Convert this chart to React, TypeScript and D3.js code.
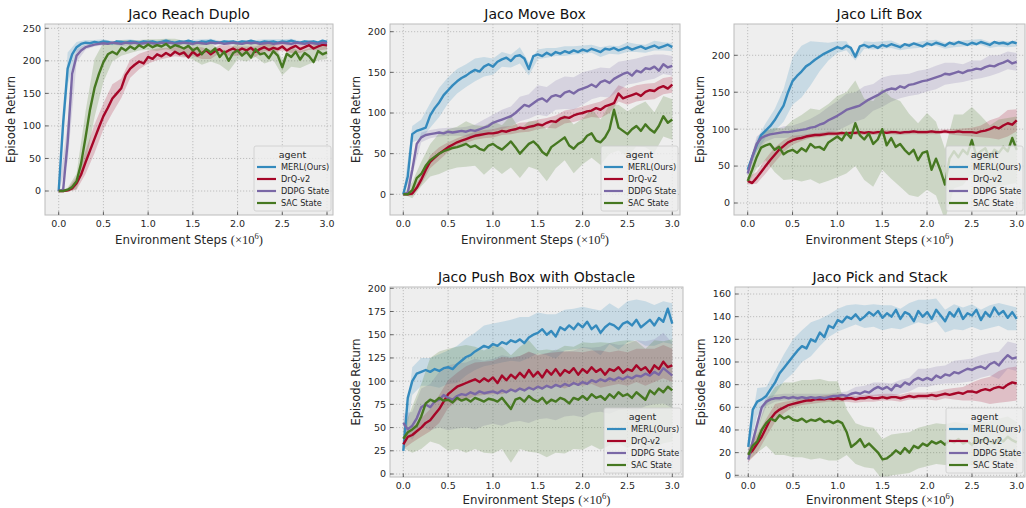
import React from 'react';
import * as d3 from 'd3';

// ---- sample grid (millions of environment steps) ----
const STEPS = d3.range(61).map((i) => i / 20);
const BAND_STEPS = d3.range(31).map((i) => i / 10);

const AGENTS = ['MERL(Ours)', 'DrQ-v2', 'DDPG State', 'SAC State'];
const COLORS = ['#348ABD', '#A60628', '#7A68A6', '#467821'];
const TITLES = ['Jaco Reach Duplo', 'Jaco Move Box', 'Jaco Lift Box', 'Jaco Push Box with Obstacle', 'Jaco Pick and Stack'];
const X_TICKS = [0, 0.5, 1, 1.5, 2, 2.5, 3];
const X_TICK_LABELS = ['0.0', '0.5', '1.0', '1.5', '2.0', '2.5', '3.0'];
const Y_TICKS_REACH = [0, 50, 100, 150, 200, 250];
const Y_TICKS_MOVE = [0, 50, 100, 150, 200];
const Y_TICKS_LIFT = [0, 50, 100, 150, 200];
const Y_TICKS_PUSH = [0, 25, 50, 75, 100, 125, 150, 175, 200];
const Y_TICKS_PICK = [0, 20, 40, 60, 80, 100, 120, 140, 160];

// ---- Jaco Reach Duplo ----
const reachMERL = [0, 105, 188, 210, 221, 226, 228, 227, 229, 228,
  230, 229, 227, 230, 229, 228, 230, 229, 228, 230,
  229, 230, 228, 229, 231, 229, 228, 230, 229, 231,
  229, 228, 230, 229, 231, 229, 228, 230, 229, 230,
  228, 230, 229, 231, 229, 228, 230, 229, 230, 228,
  230, 229, 231, 229, 228, 230, 229, 230, 228, 231,
  229];
const reachDrQ = [0, 0, 1, 4, 12, 25, 44, 62, 80, 98,
  115, 128, 142, 150, 158, 178, 188, 194, 199, 196,
  206, 203, 210, 207, 212, 208, 214, 210, 213, 205,
  214, 208, 212, 216, 210, 215, 218, 212, 216, 219,
  215, 219, 216, 220, 214, 218, 221, 217, 220, 218,
  222, 216, 220, 223, 218, 221, 224, 219, 222, 225,
  224];
const reachDDPG = [0, 2, 75, 180, 208, 216, 221, 223, 225, 226,
  227, 226, 228, 227, 226, 228, 227, 228, 226, 227,
  228, 227, 226, 228, 227, 228, 226, 227, 228, 227,
  226, 228, 227, 226, 228, 227, 228, 226, 227, 228,
  227, 226, 228, 227, 228, 226, 227, 228, 226, 227,
  228, 227, 226, 228, 227, 226, 228, 227, 226, 228,
  227];
const reachSAC = [0, 0, 2, 6, 15, 42, 82, 125, 158, 180,
  198, 210, 214, 210, 220, 216, 222, 218, 224, 220,
  225, 221, 224, 222, 226, 220, 224, 222, 219, 223,
  216, 220, 210, 218, 213, 219, 206, 214, 200, 212,
  216, 208, 214, 205, 218, 210, 212, 204, 215, 208,
  190, 211, 206, 214, 202, 212, 207, 198, 215, 210,
  213];
const reachBandMERL = [1, 25, 8, 4, 3, 3, 3, 3, 3, 3, 3, 3, 3, 3, 3, 3, 3, 3, 3, 3, 3, 3, 3, 3, 3, 3, 3, 3, 3, 3, 3];
const reachBandDrQ = [0, 2, 10, 18, 22, 20, 22, 15, 14, 12, 10, 9, 8, 7, 8, 7, 9, 7, 6, 8, 7, 6, 8, 6, 7, 6, 8, 6, 7, 6, 6];
const reachBandDDPG = [0, 30, 10, 4, 3, 3, 3, 3, 3, 3, 3, 3, 3, 3, 3, 3, 3, 3, 3, 3, 3, 3, 3, 3, 3, 3, 3, 3, 3, 3, 3];
const reachBandSAC = [0, 3, 12, 40, 45, 30, 15, 12, 10, 8, 8, 9, 8, 10, 12, 14, 16, 14, 12, 16, 14, 15, 12, 16, 14, 12, 15, 13, 12, 14, 10];

// ---- Jaco Move Box ----
const moveMERL = [0, 22, 74, 78, 80, 82, 97, 106, 113, 122,
  128, 134, 139, 143, 146, 150, 153, 151, 157, 160,
  157, 163, 166, 168, 164, 170, 171, 167, 154, 170,
  172, 170, 174, 171, 175, 173, 176, 174, 177, 175,
  178, 176, 179, 177, 175, 179, 178, 180, 177, 179,
  181, 178, 180, 182, 179, 181, 183, 180, 182, 184,
  181];
const moveDrQ = [0, 0, 1, 8, 18, 30, 40, 45, 50, 54,
  58, 61, 64, 66, 68, 70, 72, 73, 74, 75,
  75, 76, 78, 77, 79, 80, 82, 81, 83, 84,
  86, 85, 88, 90, 89, 93, 95, 94, 97, 99,
  100, 102, 103, 106, 104, 108, 110, 112, 124, 118,
  120, 122, 124, 121, 126, 128, 127, 131, 133, 130,
  135];
const moveDDPG = [0, 2, 30, 62, 70, 73, 74, 75, 76, 75,
  77, 76, 77, 78, 77, 79, 78, 80, 82, 84,
  88, 90, 92, 94, 96, 100, 105, 110, 108, 112,
  116, 118, 114, 120, 122, 120, 125, 127, 124, 128,
  130, 132, 135, 132, 138, 140, 137, 142, 145, 148,
  150, 146, 152, 150, 155, 154, 157, 152, 160, 156,
  158];
const moveSAC = [0, 0, 5, 20, 25, 35, 42, 46, 50, 53,
  55, 57, 58, 60, 62, 58, 60, 56, 54, 60,
  62, 58, 55, 60, 65, 58, 50, 56, 62, 65,
  60, 52, 48, 58, 62, 66, 70, 60, 56, 62,
  65, 72, 75, 66, 64, 70, 80, 104, 82, 78,
  74, 80, 84, 78, 86, 80, 76, 84, 96, 88,
  92];
const moveBandMERL = [0, 10, 12, 15, 18, 16, 15, 14, 14, 12, 10, 9, 8, 10, 8, 6, 6, 5, 6, 5, 5, 5, 6, 5, 5, 6, 5, 5, 6, 5, 5];
const moveBandDrQ = [0, 3, 6, 8, 8, 6, 5, 5, 5, 5, 5, 5, 5, 6, 6, 6, 6, 8, 8, 8, 8, 8, 10, 10, 10, 10, 10, 10, 10, 10, 10];
const moveBandDDPG = [0, 6, 6, 5, 5, 5, 5, 6, 8, 10, 10, 12, 12, 15, 15, 18, 18, 18, 20, 20, 20, 18, 18, 18, 18, 15, 15, 15, 15, 12, 12];
const moveBandSAC = [0, 10, 15, 20, 25, 25, 25, 28, 25, 30, 28, 30, 32, 30, 28, 30, 32, 30, 28, 30, 28, 30, 28, 30, 28, 28, 25, 28, 25, 25, 25];

// ---- Jaco Lift Box ----
const liftMERL = [45, 62, 78, 92, 98, 104, 112, 122, 132, 150,
  165, 172, 178, 185, 189, 194, 198, 202, 205, 208,
  211, 209, 213, 210, 198, 212, 214, 211, 213, 210,
  214, 212, 215, 213, 211, 215, 213, 216, 214, 212,
  216, 214, 217, 215, 213, 217, 215, 218, 216, 214,
  217, 215, 218, 216, 214, 218, 216, 217, 215, 218,
  216];
const liftDrQ = [30, 27, 34, 42, 50, 58, 65, 72, 77, 82,
  85, 87, 88, 90, 91, 92, 92, 93, 94, 94,
  94, 95, 94, 95, 95, 96, 95, 96, 95, 96,
  96, 95, 96, 96, 95, 96, 96, 97, 96, 96,
  96, 97, 96, 96, 97, 96, 96, 97, 96, 96,
  96, 95, 97, 98, 100, 103, 101, 105, 108, 106,
  112];
const liftDDPG = [40, 62, 80, 88, 91, 93, 94, 95, 96, 96,
  97, 98, 99, 100, 102, 103, 106, 108, 112, 115,
  118, 122, 126, 128, 130, 132, 136, 140, 143, 146,
  150, 153, 155, 154, 158, 156, 160, 161, 163, 165,
  166, 168, 170, 172, 175, 174, 176, 178, 176, 179,
  180, 182, 181, 184, 186, 185, 188, 190, 193, 189,
  191];
const liftSAC = [30, 45, 62, 75, 78, 80, 72, 76, 66, 70,
  72, 68, 74, 70, 80, 75, 76, 72, 82, 86,
  90, 85, 95, 88, 108, 92, 86, 94, 80, 86,
  100, 78, 88, 76, 80, 72, 66, 72, 58, 68,
  70, 45, 60, 44, 25, 60, 70, 62, 72, 66,
  85, 64, 70, 74, 60, 72, 68, 76, 70, 88,
  72];
const liftBandMERL = [3, 8, 10, 15, 22, 32, 35, 30, 20, 12, 8, 6, 5, 5, 5, 5, 5, 4, 4, 4, 4, 4, 4, 4, 4, 4, 4, 4, 4, 4, 4];
const liftBandDrQ = [5, 8, 10, 10, 8, 6, 4, 3, 3, 3, 3, 3, 3, 3, 3, 3, 3, 3, 3, 3, 3, 3, 3, 4, 5, 6, 8, 12, 15, 18, 15];
const liftBandDDPG = [5, 10, 8, 6, 8, 8, 10, 12, 15, 18, 20, 22, 20, 22, 18, 20, 18, 16, 15, 16, 15, 16, 15, 14, 12, 13, 12, 14, 12, 12, 12];
const liftBandSAC = [5, 15, 20, 30, 35, 40, 45, 48, 50, 52, 55, 55, 58, 55, 58, 55, 55, 58, 55, 50, 52, 50, 48, 50, 48, 45, 48, 45, 45, 45, 45];

// ---- Jaco Push Box with Obstacle ----
const pushMERL = [25, 82, 100, 108, 110, 112, 110, 113, 111, 114,
  115, 113, 118, 122, 126, 128, 132, 135, 138, 136,
  140, 138, 142, 140, 144, 142, 145, 141, 147, 150,
  152, 156, 150, 154, 148, 158, 155, 160, 156, 162,
  158, 164, 156, 160, 152, 158, 162, 160, 156, 162,
  164, 160, 166, 158, 162, 166, 160, 168, 164, 178,
  162];
const pushDrQ = [32, 40, 42, 46, 50, 55, 58, 64, 70, 78,
  86, 90, 94, 96, 98, 100, 102, 99, 103, 100,
  104, 98, 106, 101, 107, 103, 109, 104, 112, 105,
  110, 104, 112, 107, 113, 106, 112, 109, 114, 107,
  113, 109, 115, 110, 113, 107, 113, 111, 115, 109,
  113, 111, 117, 112, 115, 109, 117, 113, 121, 115,
  117];
const pushDDPG = [55, 48, 52, 60, 72, 75, 72, 78, 80, 85,
  82, 80, 84, 86, 85, 88, 86, 89, 87, 88,
  89, 87, 90, 88, 91, 89, 92, 90, 93, 91,
  94, 92, 95, 93, 96, 94, 97, 95, 98, 96,
  99, 97, 101, 99, 102, 100, 103, 101, 104, 102,
  105, 103, 106, 105, 108, 106, 110, 107, 114, 110,
  106];
const pushSAC = [38, 45, 48, 52, 62, 76, 80, 78, 82, 79,
  80, 77, 82, 79, 81, 78, 82, 80, 78, 81,
  80, 78, 82, 76, 70, 80, 82, 78, 84, 80,
  78, 82, 76, 80, 78, 82, 80, 76, 82, 80,
  84, 80, 86, 82, 84, 80, 86, 82, 88, 84,
  86, 82, 88, 84, 80, 90, 86, 92, 88, 94,
  90];
const pushBandMERL = [5, 15, 15, 15, 18, 18, 20, 20, 20, 22, 22, 22, 22, 24, 22, 22, 22, 24, 22, 22, 22, 22, 24, 22, 22, 22, 22, 24, 22, 22, 22];
const pushBandDrQ = [5, 8, 10, 12, 15, 15, 15, 18, 18, 18, 18, 20, 18, 18, 20, 18, 18, 18, 20, 18, 18, 18, 20, 18, 18, 18, 18, 20, 18, 18, 18];
const pushBandDDPG = [10, 15, 20, 25, 30, 35, 35, 35, 38, 35, 35, 38, 35, 35, 38, 35, 35, 38, 35, 35, 38, 35, 35, 38, 35, 35, 38, 35, 35, 38, 35];
const pushBandSAC = [10, 25, 35, 45, 50, 55, 55, 58, 55, 55, 58, 55, 58, 55, 60, 55, 58, 55, 58, 55, 58, 55, 58, 55, 55, 58, 55, 55, 58, 55, 55];

// ---- Jaco Pick and Stack ----
const pickMERL = [25, 58, 65, 67, 70, 76, 82, 90, 95, 100,
  105, 110, 114, 112, 120, 118, 126, 122, 132, 130,
  137, 135, 140, 138, 142, 137, 140, 144, 141, 145,
  139, 143, 140, 146, 138, 144, 142, 136, 145, 140,
  144, 138, 146, 141, 136, 144, 140, 147, 138, 143,
  141, 146, 137, 144, 140, 148, 142, 145, 139, 144,
  138];
const pickDrQ = [18, 22, 28, 34, 42, 50, 55, 58, 60, 62,
  63, 64, 65, 66, 66, 67, 67, 67, 68, 67,
  68, 67, 68, 68, 67, 68, 68, 69, 68, 68,
  69, 68, 69, 69, 68, 69, 70, 69, 70, 70,
  70, 71, 70, 71, 72, 71, 72, 73, 72, 74,
  74, 73, 75, 76, 75, 77, 78, 77, 80, 82,
  81];
const pickDDPG = [14, 30, 45, 60, 65, 67, 68, 68, 69, 68,
  69, 68, 69, 68, 69, 68, 69, 68, 69, 70,
  70, 71, 70, 72, 73, 72, 74, 73, 76, 78,
  76, 78, 75, 80, 78, 82, 80, 84, 86, 84,
  86, 84, 88, 86, 89, 88, 91, 90, 92, 94,
  93, 95, 96, 94, 98, 100, 97, 102, 106, 103,
  104];
const pickSAC = [18, 26, 30, 40, 46, 50, 48, 53, 50, 52,
  49, 48, 50, 47, 49, 48, 50, 47, 48, 46,
  48, 46, 38, 25, 28, 32, 25, 28, 24, 20,
  14, 15, 18, 22, 19, 24, 20, 26, 24, 28,
  26, 30, 28, 30, 27, 31, 29, 32, 28, 30,
  27, 31, 29, 33, 30, 28, 32, 30, 34, 31,
  29];
const pickBandMERL = [5, 12, 8, 10, 12, 15, 14, 15, 12, 10, 10, 10, 9, 10, 10, 11, 10, 9, 10, 10, 11, 10, 10, 11, 10, 10, 9, 10, 10, 11, 10];
const pickBandDrQ = [6, 8, 8, 8, 5, 3, 3, 3, 3, 3, 3, 3, 3, 3, 3, 3, 3, 3, 3, 3, 3, 4, 4, 5, 6, 8, 10, 12, 14, 15, 15];
const pickBandDDPG = [5, 5, 4, 3, 3, 3, 3, 3, 3, 3, 3, 4, 5, 5, 6, 6, 6, 6, 6, 8, 8, 8, 8, 10, 10, 10, 10, 10, 12, 12, 12];
const pickBandSAC = [5, 10, 20, 30, 32, 33, 34, 35, 35, 35, 35, 20, 18, 18, 18, 18, 18, 18, 18, 18, 18, 18, 18, 18, 18, 18, 18, 18, 18, 18, 18];

// ---- layout (pixels) ----
const LAYOUT = [
  { l: 45, r: 333, t: 24, b: 215, x0: 58.7, x3: 327, yv: [0, 250], yp: [191, 28.3], xl: 244 },
  { l: 390, r: 680, t: 24, b: 215, x0: 403.3, x3: 672.3, yv: [0, 200], yp: [194.3, 31.7], xl: 244 },
  { l: 734, r: 1025, t: 24, b: 215, x0: 747.7, x3: 1016.7, yv: [0, 200], yp: [203, 55.3], xl: 244 },
  { l: 390, r: 683, t: 287, b: 477, x0: 403.3, x3: 672.3, yv: [0, 200], yp: [474, 288.3], xl: 503.5 },
  { l: 735, r: 1025, t: 287, b: 477, x0: 748.3, x3: 1016.7, yv: [0, 160], yp: [475.3, 294], xl: 503.5 },
];

const PANELS = [
  { title: TITLES[0], yTicks: Y_TICKS_REACH, lines: [reachMERL, reachDrQ, reachDDPG, reachSAC], bands: [reachBandMERL, reachBandDrQ, reachBandDDPG, reachBandSAC] },
  { title: TITLES[1], yTicks: Y_TICKS_MOVE, lines: [moveMERL, moveDrQ, moveDDPG, moveSAC], bands: [moveBandMERL, moveBandDrQ, moveBandDDPG, moveBandSAC] },
  { title: TITLES[2], yTicks: Y_TICKS_LIFT, lines: [liftMERL, liftDrQ, liftDDPG, liftSAC], bands: [liftBandMERL, liftBandDrQ, liftBandDDPG, liftBandSAC] },
  { title: TITLES[3], yTicks: Y_TICKS_PUSH, lines: [pushMERL, pushDrQ, pushDDPG, pushSAC], bands: [pushBandMERL, pushBandDrQ, pushBandDDPG, pushBandSAC] },
  { title: TITLES[4], yTicks: Y_TICKS_PICK, lines: [pickMERL, pickDrQ, pickDDPG, pickSAC], bands: [pickBandMERL, pickBandDrQ, pickBandDDPG, pickBandSAC] },
];

const FONT = '"DejaVu Sans", sans-serif';
const SERIF = '"Liberation Serif", serif';
const TEXT = '#262626';

function Panel({ p, lay, idx }: { p: any; lay: any; idx: number }) {
  const x = d3.scaleLinear().domain([0, 3]).range([lay.x0, lay.x3]);
  const y = d3.scaleLinear().domain(lay.yv).range(lay.yp);
  const line = d3.line<number>().x((_, i) => x(STEPS[i])).y((d) => y(d));
  const clipId = `clip-${idx}`;
  const cx = (lay.l + lay.r) / 2;
  const cy = (lay.t + lay.b) / 2;
  const legW = 77;
  const legH = 65;
  const legX = lay.r - legW - 2;
  const legY = lay.b - legH - 4;
  return (
    <g>
      <defs>
        <clipPath id={clipId}>
          <rect x={lay.l} y={lay.t} width={lay.r - lay.l} height={lay.b - lay.t} />
        </clipPath>
      </defs>
      <rect x={lay.l} y={lay.t} width={lay.r - lay.l} height={lay.b - lay.t} fill="#eeeeee" />
      {X_TICKS.map((t) => (
        <line key={'gx' + t} x1={x(t)} x2={x(t)} y1={lay.t} y2={lay.b} stroke="#b2b2b2" strokeWidth={0.8} strokeDasharray="1.2,1.8" />
      ))}
      {p.yTicks.map((t: number) => (
        <line key={'gy' + t} x1={lay.l} x2={lay.r} y1={y(t)} y2={y(t)} stroke="#b2b2b2" strokeWidth={0.8} strokeDasharray="1.2,1.8" />
      ))}
      <g clipPath={`url(#${clipId})`}>
        {p.bands.map((w: number[], si: number) => {
          const area = d3
            .area<number>()
            .x((_, i) => x(BAND_STEPS[i]))
            .y0((d, i) => y(p.lines[si][i * 2] - d))
            .y1((d, i) => y(p.lines[si][i * 2] + d));
          return <path key={'b' + si} d={area(w) || ''} fill={COLORS[si]} fillOpacity={0.2} stroke="none" />;
        })}
        {p.lines.map((s: number[], si: number) => (
          <path key={'l' + si} d={line(s) || ''} fill="none" stroke={COLORS[si]} strokeWidth={2.4} strokeLinejoin="round" />
        ))}
      </g>
      <rect x={lay.l} y={lay.t} width={lay.r - lay.l} height={lay.b - lay.t} fill="none" stroke="#bcbcbc" strokeWidth={1} />
      {X_TICKS.map((t, i) => (
        <g key={'tx' + t}>
          <line x1={x(t)} x2={x(t)} y1={lay.b} y2={lay.b - 3.5} stroke="#444" strokeWidth={0.8} />
          <text x={x(t)} y={lay.b + 12} textAnchor="middle" fontSize={9.5} fontFamily={FONT} fill={TEXT}>
            {X_TICK_LABELS[i]}
          </text>
        </g>
      ))}
      {p.yTicks.map((t: number) => (
        <g key={'ty' + t}>
          <line x1={lay.l} x2={lay.l + 3.5} y1={y(t)} y2={y(t)} stroke="#444" strokeWidth={0.8} />
          <text x={lay.l - 4} y={y(t) + 3.4} textAnchor="end" fontSize={9.5} fontFamily={FONT} fill={TEXT}>
            {t}
          </text>
        </g>
      ))}
      <text x={cx} y={lay.t - 5.5} textAnchor="middle" fontSize={14} fontFamily={FONT} fill="#111">
        {p.title}
      </text>
      <text x={cx} y={lay.xl} textAnchor="middle" fontSize={11.8} fontFamily={FONT} fill={TEXT}>
        Environment Steps{' '}
        <tspan fontFamily={SERIF} fontSize={12.5}>(×10</tspan>
        <tspan fontFamily={SERIF} fontSize={8.5} dy={-5}>6</tspan>
        <tspan fontFamily={SERIF} fontSize={12.5} dy={5}>)</tspan>
      </text>
      <text transform={`translate(${lay.l - 30},${cy}) rotate(-90)`} textAnchor="middle" fontSize={11.5} fontFamily={FONT} fill={TEXT}>
        Episode Return
      </text>
      <g>
        <rect x={legX} y={legY} width={legW} height={legH} rx={2} fill="#eeeeee" fillOpacity={0.8} stroke="#cccccc" strokeWidth={0.8} />
        <text x={legX + legW / 2} y={legY + 12} textAnchor="middle" fontSize={9.5} fontFamily={FONT} fill={TEXT}>
          agent
        </text>
        {AGENTS.map((a, i) => (
          <g key={a}>
            <line x1={legX + 3} x2={legX + 22} y1={legY + 21 + i * 12} y2={legY + 21 + i * 12} stroke={COLORS[i]} strokeWidth={2.2} />
            <text x={legX + 27} y={legY + 24 + i * 12} fontSize={8.2} fontFamily={FONT} fill={TEXT}>
              {a}
            </text>
          </g>
        ))}
      </g>
    </g>
  );
}

export default function App() {
  return (
    <svg width={1026} height={508} style={{ position: 'absolute', left: 0, top: 0, background: '#fff' }}>
      <rect width={1026} height={508} fill="#fff" />
      {PANELS.map((p, i) => (
        <Panel key={i} p={p} lay={LAYOUT[i]} idx={i} />
      ))}
    </svg>
  );
}
